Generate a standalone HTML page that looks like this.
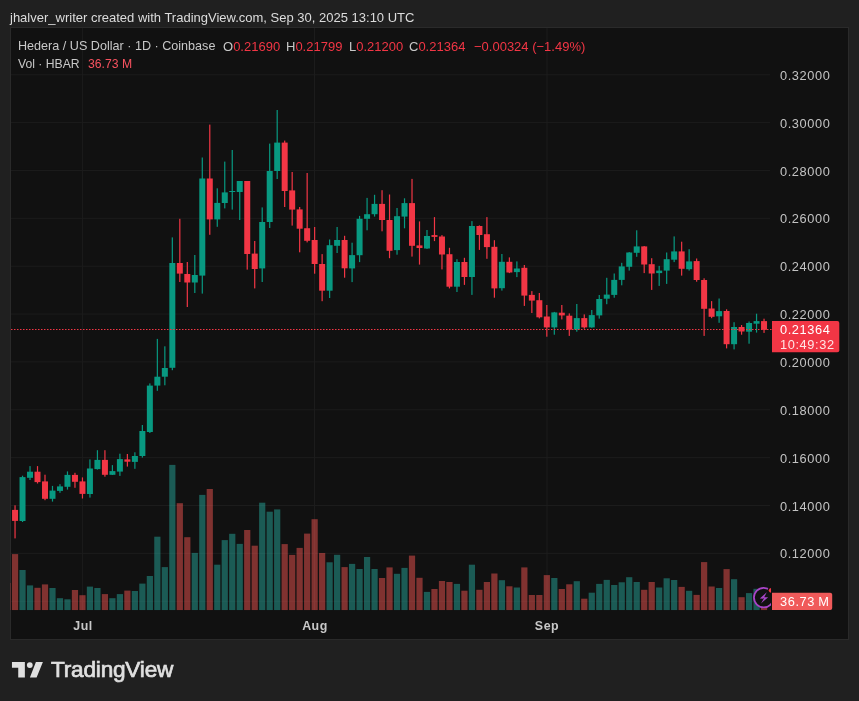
<!DOCTYPE html>
<html><head><meta charset="utf-8"><style>
*{margin:0;padding:0;box-sizing:border-box}
html,body{width:859px;height:701px;overflow:hidden;background:#202020}
body{position:relative;font-family:"Liberation Sans",sans-serif;}
.t,.pl,.tl{will-change:transform}
.t{position:absolute;white-space:pre;line-height:1}
#panel{position:absolute;left:10px;top:27px;width:839px;height:613px;border:1px solid #2a2a2a;background:#111111}
.pl{position:absolute;left:780px;font-size:12.8px;letter-spacing:0.6px;color:#c3c3c3;white-space:pre;line-height:15px}
.tl{position:absolute;top:618.6px;width:60px;text-align:center;font-size:12.4px;font-weight:bold;letter-spacing:0.55px;color:#c8c8c8;white-space:pre;line-height:14px}
.red{color:#f23645}
</style></head><body>
<div class="t" style="left:10px;top:11px;font-size:13px;color:#dcdcdc">jhalver_writer created with TradingView.com, Sep 30, 2025 13:10 UTC</div>
<div id="panel"></div>
<svg width="859" height="701" style="position:absolute;left:0;top:0">
<defs><clipPath id="pane"><rect x="11" y="28" width="759" height="582.2"/></clipPath><clipPath id="pane2"><rect x="11" y="28" width="760" height="583"/></clipPath></defs>
<rect x="11" y="74.26" width="759" height="1" fill="#1c1c1c"/>
<rect x="11" y="122.12" width="759" height="1" fill="#1c1c1c"/>
<rect x="11" y="169.98" width="759" height="1" fill="#1c1c1c"/>
<rect x="11" y="217.84" width="759" height="1" fill="#1c1c1c"/>
<rect x="11" y="265.7" width="759" height="1" fill="#1c1c1c"/>
<rect x="11" y="313.56" width="759" height="1" fill="#1c1c1c"/>
<rect x="11" y="361.42" width="759" height="1" fill="#1c1c1c"/>
<rect x="11" y="409.28" width="759" height="1" fill="#1c1c1c"/>
<rect x="11" y="457.14" width="759" height="1" fill="#1c1c1c"/>
<rect x="11" y="505" width="759" height="1" fill="#1c1c1c"/>
<rect x="11" y="552.86" width="759" height="1" fill="#1c1c1c"/>
<rect x="11" y="600.72" width="759" height="1" fill="#1c1c1c"/>
<rect x="81.95" y="28" width="1" height="582" fill="#1c1c1c"/>
<rect x="314" y="28" width="1" height="582" fill="#1c1c1c"/>
<rect x="546.5" y="28" width="1" height="582" fill="#1c1c1c"/>
<g clip-path="url(#pane)"><rect x="4.5" y="583" width="6.2" height="27.2" fill="rgba(239,83,80,0.5)"/><rect x="11.94" y="554.1" width="6.2" height="56.1" fill="rgba(239,83,80,0.5)"/><rect x="19.43" y="570" width="6.2" height="40.2" fill="rgba(38,166,154,0.5)"/><rect x="26.92" y="585.4" width="6.2" height="24.8" fill="rgba(38,166,154,0.5)"/><rect x="34.41" y="587.8" width="6.2" height="22.4" fill="rgba(239,83,80,0.5)"/><rect x="41.9" y="584.4" width="6.2" height="25.8" fill="rgba(239,83,80,0.5)"/><rect x="49.39" y="588" width="6.2" height="22.2" fill="rgba(38,166,154,0.5)"/><rect x="56.88" y="598.2" width="6.2" height="12" fill="rgba(38,166,154,0.5)"/><rect x="64.37" y="599.3" width="6.2" height="10.9" fill="rgba(38,166,154,0.5)"/><rect x="71.86" y="590" width="6.2" height="20.2" fill="rgba(239,83,80,0.5)"/><rect x="79.35" y="595.2" width="6.2" height="15" fill="rgba(239,83,80,0.5)"/><rect x="86.84" y="586.6" width="6.2" height="23.6" fill="rgba(38,166,154,0.5)"/><rect x="94.33" y="588" width="6.2" height="22.2" fill="rgba(38,166,154,0.5)"/><rect x="101.82" y="594.1" width="6.2" height="16.1" fill="rgba(239,83,80,0.5)"/><rect x="109.31" y="598.2" width="6.2" height="12" fill="rgba(38,166,154,0.5)"/><rect x="116.8" y="594.1" width="6.2" height="16.1" fill="rgba(38,166,154,0.5)"/><rect x="124.29" y="590.6" width="6.2" height="19.6" fill="rgba(239,83,80,0.5)"/><rect x="131.78" y="591" width="6.2" height="19.2" fill="rgba(38,166,154,0.5)"/><rect x="139.27" y="583.6" width="6.2" height="26.6" fill="rgba(38,166,154,0.5)"/><rect x="146.76" y="576" width="6.2" height="34.2" fill="rgba(38,166,154,0.5)"/><rect x="154.25" y="536.7" width="6.2" height="73.5" fill="rgba(38,166,154,0.5)"/><rect x="161.74" y="567.1" width="6.2" height="43.1" fill="rgba(38,166,154,0.5)"/><rect x="169.23" y="464.9" width="6.2" height="145.3" fill="rgba(38,166,154,0.5)"/><rect x="176.72" y="503.2" width="6.2" height="107" fill="rgba(239,83,80,0.5)"/><rect x="184.21" y="537.2" width="6.2" height="73" fill="rgba(239,83,80,0.5)"/><rect x="191.7" y="552.9" width="6.2" height="57.3" fill="rgba(38,166,154,0.5)"/><rect x="199.19" y="494.9" width="6.2" height="115.3" fill="rgba(38,166,154,0.5)"/><rect x="206.68" y="489" width="6.2" height="121.2" fill="rgba(239,83,80,0.5)"/><rect x="214.17" y="564.7" width="6.2" height="45.5" fill="rgba(38,166,154,0.5)"/><rect x="221.66" y="540.1" width="6.2" height="70.1" fill="rgba(38,166,154,0.5)"/><rect x="229.15" y="533.8" width="6.2" height="76.4" fill="rgba(38,166,154,0.5)"/><rect x="236.64" y="543.9" width="6.2" height="66.3" fill="rgba(38,166,154,0.5)"/><rect x="244.13" y="530" width="6.2" height="80.2" fill="rgba(239,83,80,0.5)"/><rect x="251.62" y="545.7" width="6.2" height="64.5" fill="rgba(239,83,80,0.5)"/><rect x="259.11" y="502.7" width="6.2" height="107.5" fill="rgba(38,166,154,0.5)"/><rect x="266.6" y="511.7" width="6.2" height="98.5" fill="rgba(38,166,154,0.5)"/><rect x="274.09" y="509.4" width="6.2" height="100.8" fill="rgba(38,166,154,0.5)"/><rect x="281.58" y="544.1" width="6.2" height="66.1" fill="rgba(239,83,80,0.5)"/><rect x="289.07" y="554.9" width="6.2" height="55.3" fill="rgba(239,83,80,0.5)"/><rect x="296.56" y="547.9" width="6.2" height="62.3" fill="rgba(239,83,80,0.5)"/><rect x="304.05" y="533.6" width="6.2" height="76.6" fill="rgba(239,83,80,0.5)"/><rect x="311.54" y="519.2" width="6.2" height="91" fill="rgba(239,83,80,0.5)"/><rect x="319.03" y="553" width="6.2" height="57.2" fill="rgba(239,83,80,0.5)"/><rect x="326.52" y="562.3" width="6.2" height="47.9" fill="rgba(38,166,154,0.5)"/><rect x="334.01" y="554.8" width="6.2" height="55.4" fill="rgba(38,166,154,0.5)"/><rect x="341.5" y="567.1" width="6.2" height="43.1" fill="rgba(239,83,80,0.5)"/><rect x="348.99" y="563.9" width="6.2" height="46.3" fill="rgba(38,166,154,0.5)"/><rect x="356.48" y="569" width="6.2" height="41.2" fill="rgba(38,166,154,0.5)"/><rect x="363.97" y="557" width="6.2" height="53.2" fill="rgba(38,166,154,0.5)"/><rect x="371.46" y="569" width="6.2" height="41.2" fill="rgba(38,166,154,0.5)"/><rect x="378.95" y="578" width="6.2" height="32.2" fill="rgba(239,83,80,0.5)"/><rect x="386.44" y="567.4" width="6.2" height="42.8" fill="rgba(239,83,80,0.5)"/><rect x="393.93" y="573.8" width="6.2" height="36.4" fill="rgba(38,166,154,0.5)"/><rect x="401.42" y="567.9" width="6.2" height="42.3" fill="rgba(38,166,154,0.5)"/><rect x="408.91" y="555.6" width="6.2" height="54.6" fill="rgba(239,83,80,0.5)"/><rect x="416.4" y="577.8" width="6.2" height="32.4" fill="rgba(239,83,80,0.5)"/><rect x="423.89" y="591.9" width="6.2" height="18.3" fill="rgba(38,166,154,0.5)"/><rect x="431.38" y="589" width="6.2" height="21.2" fill="rgba(239,83,80,0.5)"/><rect x="438.87" y="581" width="6.2" height="29.2" fill="rgba(239,83,80,0.5)"/><rect x="446.36" y="582" width="6.2" height="28.2" fill="rgba(239,83,80,0.5)"/><rect x="453.85" y="583.9" width="6.2" height="26.3" fill="rgba(38,166,154,0.5)"/><rect x="461.34" y="590.7" width="6.2" height="19.5" fill="rgba(239,83,80,0.5)"/><rect x="468.83" y="564.7" width="6.2" height="45.5" fill="rgba(38,166,154,0.5)"/><rect x="476.32" y="589.8" width="6.2" height="20.4" fill="rgba(239,83,80,0.5)"/><rect x="483.81" y="582" width="6.2" height="28.2" fill="rgba(239,83,80,0.5)"/><rect x="491.3" y="573.5" width="6.2" height="36.7" fill="rgba(239,83,80,0.5)"/><rect x="498.79" y="580.2" width="6.2" height="30" fill="rgba(38,166,154,0.5)"/><rect x="506.28" y="586.3" width="6.2" height="23.9" fill="rgba(239,83,80,0.5)"/><rect x="513.77" y="587.5" width="6.2" height="22.7" fill="rgba(38,166,154,0.5)"/><rect x="521.26" y="567.4" width="6.2" height="42.8" fill="rgba(239,83,80,0.5)"/><rect x="528.75" y="595" width="6.2" height="15.2" fill="rgba(239,83,80,0.5)"/><rect x="536.24" y="595" width="6.2" height="15.2" fill="rgba(239,83,80,0.5)"/><rect x="543.73" y="575.1" width="6.2" height="35.1" fill="rgba(239,83,80,0.5)"/><rect x="551.22" y="578" width="6.2" height="32.2" fill="rgba(38,166,154,0.5)"/><rect x="558.71" y="589" width="6.2" height="21.2" fill="rgba(239,83,80,0.5)"/><rect x="566.2" y="584.3" width="6.2" height="25.9" fill="rgba(239,83,80,0.5)"/><rect x="573.69" y="581.2" width="6.2" height="29" fill="rgba(38,166,154,0.5)"/><rect x="581.18" y="598.7" width="6.2" height="11.5" fill="rgba(239,83,80,0.5)"/><rect x="588.67" y="592.7" width="6.2" height="17.5" fill="rgba(38,166,154,0.5)"/><rect x="596.16" y="583.9" width="6.2" height="26.3" fill="rgba(38,166,154,0.5)"/><rect x="603.65" y="579.9" width="6.2" height="30.3" fill="rgba(38,166,154,0.5)"/><rect x="611.14" y="585" width="6.2" height="25.2" fill="rgba(38,166,154,0.5)"/><rect x="618.63" y="582.3" width="6.2" height="27.9" fill="rgba(38,166,154,0.5)"/><rect x="626.12" y="577.2" width="6.2" height="33" fill="rgba(38,166,154,0.5)"/><rect x="633.61" y="582" width="6.2" height="28.2" fill="rgba(38,166,154,0.5)"/><rect x="641.1" y="589.8" width="6.2" height="20.4" fill="rgba(239,83,80,0.5)"/><rect x="648.59" y="582" width="6.2" height="28.2" fill="rgba(239,83,80,0.5)"/><rect x="656.08" y="587.5" width="6.2" height="22.7" fill="rgba(38,166,154,0.5)"/><rect x="663.57" y="578.3" width="6.2" height="31.9" fill="rgba(38,166,154,0.5)"/><rect x="671.06" y="580" width="6.2" height="30.2" fill="rgba(38,166,154,0.5)"/><rect x="678.55" y="586.9" width="6.2" height="23.3" fill="rgba(239,83,80,0.5)"/><rect x="686.04" y="590.8" width="6.2" height="19.4" fill="rgba(38,166,154,0.5)"/><rect x="693.53" y="594.9" width="6.2" height="15.3" fill="rgba(239,83,80,0.5)"/><rect x="701.02" y="562.1" width="6.2" height="48.1" fill="rgba(239,83,80,0.5)"/><rect x="708.51" y="586.5" width="6.2" height="23.7" fill="rgba(239,83,80,0.5)"/><rect x="716" y="588" width="6.2" height="22.2" fill="rgba(38,166,154,0.5)"/><rect x="723.49" y="569.1" width="6.2" height="41.1" fill="rgba(239,83,80,0.5)"/><rect x="730.98" y="579.2" width="6.2" height="31" fill="rgba(38,166,154,0.5)"/><rect x="738.47" y="597.2" width="6.2" height="13" fill="rgba(239,83,80,0.5)"/><rect x="745.96" y="593.1" width="6.2" height="17.1" fill="rgba(38,166,154,0.5)"/><rect x="753.45" y="588.8" width="6.2" height="21.4" fill="rgba(38,166,154,0.5)"/><rect x="760.94" y="601" width="6.2" height="9.2" fill="rgba(239,83,80,0.5)"/></g>
<rect x="10" y="583" width="1" height="27" fill="rgba(239,83,80,0.22)"/>
<g clip-path="url(#pane)"><rect x="14.44" y="505.3" width="1.2" height="33.1" fill="#f23645"/><rect x="12.04" y="509.9" width="6.0" height="11" fill="#f23645"/><rect x="21.93" y="475.7" width="1.2" height="46.3" fill="#089981"/><rect x="19.53" y="477.1" width="6.0" height="43.9" fill="#089981"/><rect x="29.42" y="466.1" width="1.2" height="13.9" fill="#089981"/><rect x="27.02" y="471.7" width="6.0" height="6.1" fill="#089981"/><rect x="36.91" y="466.1" width="1.2" height="17.4" fill="#f23645"/><rect x="34.51" y="471.7" width="6.0" height="10.4" fill="#f23645"/><rect x="44.4" y="474.7" width="1.2" height="25.5" fill="#f23645"/><rect x="42" y="481.4" width="6.0" height="17.4" fill="#f23645"/><rect x="51.89" y="485.9" width="1.2" height="15.7" fill="#089981"/><rect x="49.49" y="490.6" width="6.0" height="8.2" fill="#089981"/><rect x="59.38" y="484.2" width="1.2" height="8.6" fill="#089981"/><rect x="56.98" y="486.4" width="6.0" height="4.5" fill="#089981"/><rect x="66.87" y="471.4" width="1.2" height="18.2" fill="#089981"/><rect x="64.47" y="474.9" width="6.0" height="11.9" fill="#089981"/><rect x="74.36" y="472.8" width="1.2" height="15" fill="#f23645"/><rect x="71.96" y="474.9" width="6.0" height="6.9" fill="#f23645"/><rect x="81.85" y="477.4" width="1.2" height="21.1" fill="#f23645"/><rect x="79.45" y="481.4" width="6.0" height="12.5" fill="#f23645"/><rect x="89.34" y="459.4" width="1.2" height="38.2" fill="#089981"/><rect x="86.94" y="468.5" width="6.0" height="25.5" fill="#089981"/><rect x="96.83" y="450.2" width="1.2" height="19.4" fill="#089981"/><rect x="94.43" y="459.9" width="6.0" height="9.2" fill="#089981"/><rect x="104.32" y="450.2" width="1.2" height="26.5" fill="#f23645"/><rect x="101.92" y="459.9" width="6.0" height="14.9" fill="#f23645"/><rect x="111.81" y="465.1" width="1.2" height="9.9" fill="#089981"/><rect x="109.41" y="471.1" width="6.0" height="3.7" fill="#089981"/><rect x="119.3" y="453.7" width="1.2" height="22.2" fill="#089981"/><rect x="116.9" y="459.1" width="6.0" height="12.5" fill="#089981"/><rect x="126.79" y="454" width="1.2" height="12.6" fill="#f23645"/><rect x="124.39" y="459.4" width="6.0" height="2.3" fill="#f23645"/><rect x="134.28" y="452.3" width="1.2" height="16.5" fill="#089981"/><rect x="131.88" y="456" width="6.0" height="5.9" fill="#089981"/><rect x="141.77" y="425" width="1.2" height="32.6" fill="#089981"/><rect x="139.37" y="431" width="6.0" height="25" fill="#089981"/><rect x="149.26" y="383.4" width="1.2" height="49.6" fill="#089981"/><rect x="146.86" y="385.6" width="6.0" height="46.4" fill="#089981"/><rect x="156.75" y="338.9" width="1.2" height="51.9" fill="#089981"/><rect x="154.35" y="376.7" width="6.0" height="8.9" fill="#089981"/><rect x="164.24" y="346.3" width="1.2" height="39" fill="#089981"/><rect x="161.84" y="368" width="6.0" height="8.7" fill="#089981"/><rect x="171.73" y="237.4" width="1.2" height="132.8" fill="#089981"/><rect x="169.33" y="263" width="6.0" height="104.8" fill="#089981"/><rect x="179.22" y="218.8" width="1.2" height="63.2" fill="#f23645"/><rect x="176.82" y="263" width="6.0" height="10.6" fill="#f23645"/><rect x="186.71" y="262" width="1.2" height="45" fill="#f23645"/><rect x="184.31" y="274" width="6.0" height="8.5" fill="#f23645"/><rect x="194.2" y="255" width="1.2" height="38" fill="#089981"/><rect x="191.8" y="275" width="6.0" height="7.5" fill="#089981"/><rect x="201.69" y="157.5" width="1.2" height="136.1" fill="#089981"/><rect x="199.29" y="178.5" width="6.0" height="97.1" fill="#089981"/><rect x="209.18" y="124.6" width="1.2" height="110.2" fill="#f23645"/><rect x="206.78" y="178.5" width="6.0" height="40.9" fill="#f23645"/><rect x="216.67" y="188.3" width="1.2" height="38.5" fill="#089981"/><rect x="214.27" y="202.9" width="6.0" height="16.5" fill="#089981"/><rect x="224.16" y="161.6" width="1.2" height="46.8" fill="#089981"/><rect x="221.76" y="192.4" width="6.0" height="10.6" fill="#089981"/><rect x="231.65" y="150" width="1.2" height="59.6" fill="#089981"/><rect x="229.25" y="191" width="6.0" height="1" fill="#089981"/><rect x="239.14" y="181" width="1.2" height="39" fill="#089981"/><rect x="236.74" y="181" width="6.0" height="11" fill="#089981"/><rect x="246.63" y="181" width="1.2" height="88.6" fill="#f23645"/><rect x="244.23" y="181" width="6.0" height="73" fill="#f23645"/><rect x="254.12" y="241" width="1.2" height="47.4" fill="#f23645"/><rect x="251.72" y="253.6" width="6.0" height="15.4" fill="#f23645"/><rect x="261.61" y="207.4" width="1.2" height="74.6" fill="#089981"/><rect x="259.21" y="222" width="6.0" height="46.4" fill="#089981"/><rect x="269.1" y="143.6" width="1.2" height="84.4" fill="#089981"/><rect x="266.7" y="171" width="6.0" height="51" fill="#089981"/><rect x="276.59" y="110" width="1.2" height="69" fill="#089981"/><rect x="274.19" y="142.6" width="6.0" height="28.4" fill="#089981"/><rect x="284.08" y="140.6" width="1.2" height="66.4" fill="#f23645"/><rect x="281.68" y="142.6" width="6.0" height="48.4" fill="#f23645"/><rect x="291.57" y="172" width="1.2" height="53.6" fill="#f23645"/><rect x="289.17" y="190.4" width="6.0" height="19.2" fill="#f23645"/><rect x="299.06" y="207" width="1.2" height="45.3" fill="#f23645"/><rect x="296.66" y="209.4" width="6.0" height="19.3" fill="#f23645"/><rect x="306.55" y="173" width="1.2" height="69.4" fill="#f23645"/><rect x="304.15" y="228.2" width="6.0" height="12.6" fill="#f23645"/><rect x="314.04" y="227" width="1.2" height="46.7" fill="#f23645"/><rect x="311.64" y="240" width="6.0" height="24" fill="#f23645"/><rect x="321.53" y="254.1" width="1.2" height="47.1" fill="#f23645"/><rect x="319.13" y="264" width="6.0" height="26.7" fill="#f23645"/><rect x="329.02" y="239.5" width="1.2" height="58.5" fill="#089981"/><rect x="326.62" y="245.2" width="6.0" height="45.5" fill="#089981"/><rect x="336.51" y="227" width="1.2" height="26" fill="#089981"/><rect x="334.11" y="240" width="6.0" height="5.8" fill="#089981"/><rect x="344" y="235.8" width="1.2" height="41.9" fill="#f23645"/><rect x="341.6" y="240" width="6.0" height="28.3" fill="#f23645"/><rect x="351.49" y="242.7" width="1.2" height="39.4" fill="#089981"/><rect x="349.09" y="255.1" width="6.0" height="13.3" fill="#089981"/><rect x="358.98" y="215.9" width="1.2" height="46.2" fill="#089981"/><rect x="356.58" y="218.8" width="6.0" height="36.4" fill="#089981"/><rect x="366.47" y="197.9" width="1.2" height="32.4" fill="#089981"/><rect x="364.07" y="214.2" width="6.0" height="4.6" fill="#089981"/><rect x="373.96" y="194.8" width="1.2" height="21.8" fill="#089981"/><rect x="371.56" y="203.9" width="6.0" height="10.3" fill="#089981"/><rect x="381.45" y="190.2" width="1.2" height="41.1" fill="#f23645"/><rect x="379.05" y="203.9" width="6.0" height="16.1" fill="#f23645"/><rect x="388.94" y="194.5" width="1.2" height="63.7" fill="#f23645"/><rect x="386.54" y="220" width="6.0" height="30.8" fill="#f23645"/><rect x="396.43" y="208" width="1.2" height="46.7" fill="#089981"/><rect x="394.03" y="216.2" width="6.0" height="33.9" fill="#089981"/><rect x="403.92" y="198.3" width="1.2" height="30" fill="#089981"/><rect x="401.52" y="203.1" width="6.0" height="13.5" fill="#089981"/><rect x="411.41" y="178.9" width="1.2" height="77.7" fill="#f23645"/><rect x="409.01" y="203.1" width="6.0" height="42.7" fill="#f23645"/><rect x="418.9" y="221.4" width="1.2" height="43.2" fill="#f23645"/><rect x="416.5" y="245.4" width="6.0" height="2.6" fill="#f23645"/><rect x="426.39" y="230" width="1.2" height="18.9" fill="#089981"/><rect x="423.99" y="236" width="6.0" height="12.5" fill="#089981"/><rect x="433.88" y="217.1" width="1.2" height="24" fill="#f23645"/><rect x="431.48" y="235.1" width="6.0" height="1.8" fill="#f23645"/><rect x="441.37" y="235.1" width="1.2" height="34.3" fill="#f23645"/><rect x="438.97" y="236.5" width="6.0" height="18" fill="#f23645"/><rect x="448.86" y="247.8" width="1.2" height="40.6" fill="#f23645"/><rect x="446.46" y="254.2" width="6.0" height="32.5" fill="#f23645"/><rect x="456.35" y="259.2" width="1.2" height="32.8" fill="#089981"/><rect x="453.95" y="262" width="6.0" height="24.7" fill="#089981"/><rect x="463.84" y="257.8" width="1.2" height="27.1" fill="#f23645"/><rect x="461.44" y="262" width="6.0" height="15" fill="#f23645"/><rect x="471.33" y="221.1" width="1.2" height="73.8" fill="#089981"/><rect x="468.93" y="226" width="6.0" height="51" fill="#089981"/><rect x="478.82" y="225.4" width="1.2" height="24.5" fill="#f23645"/><rect x="476.42" y="226" width="6.0" height="9" fill="#f23645"/><rect x="486.31" y="217.1" width="1.2" height="41.7" fill="#f23645"/><rect x="483.91" y="234.2" width="6.0" height="12.9" fill="#f23645"/><rect x="493.8" y="240.2" width="1.2" height="57.5" fill="#f23645"/><rect x="491.4" y="246.8" width="6.0" height="41.6" fill="#f23645"/><rect x="501.29" y="254" width="1.2" height="36.6" fill="#089981"/><rect x="498.89" y="261.8" width="6.0" height="26.4" fill="#089981"/><rect x="508.78" y="257.4" width="1.2" height="15.7" fill="#f23645"/><rect x="506.38" y="261.8" width="6.0" height="10.7" fill="#f23645"/><rect x="516.27" y="261.4" width="1.2" height="15.7" fill="#089981"/><rect x="513.87" y="268.5" width="6.0" height="3.6" fill="#089981"/><rect x="523.76" y="265" width="1.2" height="40.9" fill="#f23645"/><rect x="521.36" y="267.8" width="6.0" height="27.8" fill="#f23645"/><rect x="531.25" y="291.1" width="1.2" height="21.9" fill="#f23645"/><rect x="528.85" y="294.9" width="6.0" height="5.7" fill="#f23645"/><rect x="538.74" y="293" width="1.2" height="25.4" fill="#f23645"/><rect x="536.34" y="300.2" width="6.0" height="17.1" fill="#f23645"/><rect x="546.23" y="305" width="1.2" height="31.7" fill="#f23645"/><rect x="543.83" y="316.5" width="6.0" height="10.9" fill="#f23645"/><rect x="553.72" y="311.9" width="1.2" height="22.8" fill="#089981"/><rect x="551.32" y="312.4" width="6.0" height="15" fill="#089981"/><rect x="561.21" y="305" width="1.2" height="14.4" fill="#f23645"/><rect x="558.81" y="312.7" width="6.0" height="2.7" fill="#f23645"/><rect x="568.7" y="313.4" width="1.2" height="22.5" fill="#f23645"/><rect x="566.3" y="315.7" width="6.0" height="14" fill="#f23645"/><rect x="576.19" y="304" width="1.2" height="27.7" fill="#089981"/><rect x="573.79" y="318.1" width="6.0" height="11.6" fill="#089981"/><rect x="583.68" y="314.4" width="1.2" height="14.3" fill="#f23645"/><rect x="581.28" y="318.1" width="6.0" height="9.3" fill="#f23645"/><rect x="591.17" y="310" width="1.2" height="17.7" fill="#089981"/><rect x="588.77" y="315.1" width="6.0" height="12.3" fill="#089981"/><rect x="598.66" y="295" width="1.2" height="23.6" fill="#089981"/><rect x="596.26" y="299" width="6.0" height="16.4" fill="#089981"/><rect x="606.15" y="277.8" width="1.2" height="26.4" fill="#089981"/><rect x="603.75" y="294.6" width="6.0" height="4.1" fill="#089981"/><rect x="613.64" y="273.5" width="1.2" height="24.2" fill="#089981"/><rect x="611.24" y="279.9" width="6.0" height="15" fill="#089981"/><rect x="621.13" y="262.8" width="1.2" height="22.5" fill="#089981"/><rect x="618.73" y="266.4" width="6.0" height="13.5" fill="#089981"/><rect x="628.62" y="252.1" width="1.2" height="18.5" fill="#089981"/><rect x="626.22" y="252.5" width="6.0" height="14.3" fill="#089981"/><rect x="636.11" y="230.3" width="1.2" height="26.5" fill="#089981"/><rect x="633.71" y="246.4" width="6.0" height="6.4" fill="#089981"/><rect x="643.6" y="246" width="1.2" height="27.1" fill="#f23645"/><rect x="641.2" y="246.4" width="6.0" height="18.1" fill="#f23645"/><rect x="651.09" y="258.2" width="1.2" height="31.7" fill="#f23645"/><rect x="648.69" y="264.2" width="6.0" height="9.3" fill="#f23645"/><rect x="658.58" y="265.9" width="1.2" height="20" fill="#089981"/><rect x="656.18" y="270.6" width="6.0" height="2.5" fill="#089981"/><rect x="666.07" y="252.5" width="1.2" height="31.4" fill="#089981"/><rect x="663.67" y="259.2" width="6.0" height="11.4" fill="#089981"/><rect x="673.56" y="236.4" width="1.2" height="25.7" fill="#089981"/><rect x="671.16" y="251.4" width="6.0" height="8.3" fill="#089981"/><rect x="681.05" y="241.7" width="1.2" height="33.9" fill="#f23645"/><rect x="678.65" y="251.4" width="6.0" height="17.4" fill="#f23645"/><rect x="688.54" y="249.2" width="1.2" height="21.4" fill="#089981"/><rect x="686.14" y="261.4" width="6.0" height="7.8" fill="#089981"/><rect x="696.03" y="258.5" width="1.2" height="23.2" fill="#f23645"/><rect x="693.63" y="261.1" width="6.0" height="18.9" fill="#f23645"/><rect x="703.52" y="278.3" width="1.2" height="57.6" fill="#f23645"/><rect x="701.12" y="280" width="6.0" height="28.8" fill="#f23645"/><rect x="711.01" y="301.1" width="1.2" height="17.1" fill="#f23645"/><rect x="708.61" y="308.5" width="6.0" height="8.3" fill="#f23645"/><rect x="718.5" y="298.5" width="1.2" height="24.3" fill="#089981"/><rect x="716.1" y="311.1" width="6.0" height="5.2" fill="#089981"/><rect x="725.99" y="309.3" width="1.2" height="39.1" fill="#f23645"/><rect x="723.59" y="311" width="6.0" height="33.2" fill="#f23645"/><rect x="733.48" y="322.2" width="1.2" height="27.2" fill="#089981"/><rect x="731.08" y="327" width="6.0" height="17.2" fill="#089981"/><rect x="740.97" y="325" width="1.2" height="9.7" fill="#f23645"/><rect x="738.57" y="327" width="6.0" height="4.5" fill="#f23645"/><rect x="748.46" y="321.5" width="1.2" height="22.2" fill="#089981"/><rect x="746.06" y="323" width="6.0" height="8.7" fill="#089981"/><rect x="755.95" y="313.7" width="1.2" height="18.9" fill="#089981"/><rect x="753.55" y="321.1" width="6.0" height="2.6" fill="#089981"/><rect x="763.44" y="318.7" width="1.2" height="14.2" fill="#f23645"/><rect x="761.04" y="321.1" width="6.0" height="8.7" fill="#f23645"/></g>
<line x1="11" y1="329.5" x2="772" y2="329.5" stroke="#f23645" stroke-width="1.2" stroke-dasharray="1.5 1.5"/>
<path d="M772 321.1 H837.3 a2 2 0 0 1 2 2 V350.2 a2 2 0 0 1 -2 2 H772 Z" fill="#f23645"/>
<path d="M772 592.8 H830.2 a2 2 0 0 1 2 2 V608 a2 2 0 0 1 -2 2 H772 Z" fill="#f05a5a"/>
<g clip-path="url(#pane2)"><circle cx="763.75" cy="597.6" r="10.6" fill="#111111"/><circle cx="763.75" cy="597.6" r="9.8" fill="none" stroke="#a845c8" stroke-width="1.8"/><circle cx="771.2" cy="590.3" r="3.5" fill="#111111"/><circle cx="771.2" cy="590.3" r="2.4" fill="#f23645"/><path d="M766.8 592.2 L759.8 598.5 L764 598.3 L761 603.4 L768.2 597.2 L764.2 597.3 Z" fill="#a845c8"/></g>
</svg>
<div class="t" style="left:18.4px;top:39.5px;font-size:12.6px;color:#c8c8c8">Hedera / US Dollar · 1D · Coinbase</div>
<div class="t" style="left:223px;top:39.5px;font-size:13px;color:#c8c8c8">O<span class="red">0.21690</span></div>
<div class="t" style="left:286px;top:39.5px;font-size:13px;color:#c8c8c8">H<span class="red">0.21799</span></div>
<div class="t" style="left:348.5px;top:39.5px;font-size:13px;color:#c8c8c8">L<span class="red">0.21200</span></div>
<div class="t" style="left:409px;top:39.5px;font-size:13px;color:#c8c8c8">C<span class="red">0.21364</span></div>
<div class="t red" style="left:473.5px;top:39.5px;font-size:13px">−0.00324 (−1.49%)</div>
<div class="t" style="left:18.4px;top:57.5px;font-size:12.2px;color:#c8c8c8">Vol · HBAR</div>
<div class="t" style="left:88px;top:57.5px;font-size:12.2px;color:#f7525f">36.73 M</div>
<div class="pl" style="top:67.86px">0.32000</div>
<div class="pl" style="top:115.72px">0.30000</div>
<div class="pl" style="top:163.58px">0.28000</div>
<div class="pl" style="top:211.44px">0.26000</div>
<div class="pl" style="top:259.3px">0.24000</div>
<div class="pl" style="top:307.16px">0.22000</div>
<div class="pl" style="top:355.02px">0.20000</div>
<div class="pl" style="top:402.88px">0.18000</div>
<div class="pl" style="top:450.74px">0.16000</div>
<div class="pl" style="top:498.6px">0.14000</div>
<div class="pl" style="top:546.46px">0.12000</div>
<div class="pl" style="top:320.8px;color:#ffffff;line-height:17px">0.21364</div>
<div class="pl" style="top:336px;left:780.2px;color:#ffe4e6;line-height:17px">10:49:32</div>
<div class="pl" style="top:593.3px;color:#ffffff;line-height:17px">36.73&#8201;M</div>
<div class="tl" style="left:52.5px">Jul</div>
<div class="tl" style="left:284.6px">Aug</div>
<div class="tl" style="left:517.2px">Sep</div>
<svg width="859" height="701" style="position:absolute;left:0;top:0"><path d="M11.96 662.06H24.86V677.4H18.24V667.65H11.96Z M35.9 662.06H42.9L36.6 677.4H29.9Z" fill="#e0e0e0"/><circle cx="29.8" cy="665.1" r="2.9" fill="#e0e0e0"/></svg>
<div class="t" style="left:50.5px;top:658.5px;font-size:22.6px;font-weight:normal;-webkit-text-stroke:0.7px #e0e0e0;letter-spacing:-0.2px;color:#e0e0e0">TradingView</div>
</body></html>
